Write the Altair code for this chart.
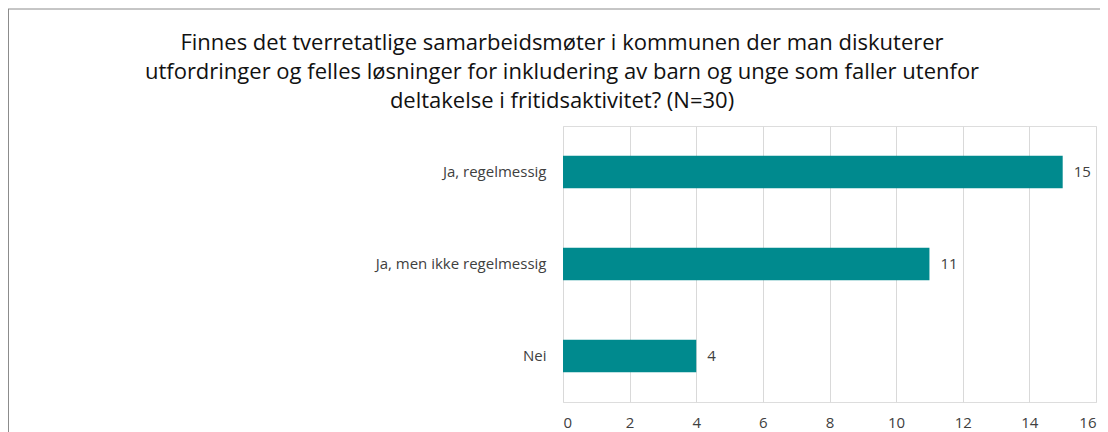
import altair as alt
import pandas as pd

categories = ["Ja, regelmessig", "Ja, men ikke regelmessig", "Nei"]
values = [15, 11, 4]
x_ticks = [0, 2, 4, 6, 8, 10, 12, 14, 16]
title_lines = [
    "Finnes det tverretatlige samarbeidsmøter i kommunen der man diskuterer",
    "utfordringer og felles løsninger for inkludering av barn og unge som faller utenfor",
    "deltakelse i fritidsaktivitet? (N=30)",
]

df = pd.DataFrame({"kategori": categories, "antall": values})
one = pd.DataFrame({"t": [0]})

FONT = "Open Sans"
BAR = "#008A8E"
TXT = "#404040"

W, H = 533, 276

base = alt.Chart(df)

bars = base.mark_bar(color=BAR, size=32.5).encode(
    x=alt.X(
        "antall:Q",
        scale=alt.Scale(domain=[0, 16], nice=False),
        axis=alt.Axis(
            values=x_ticks,
            title=None,
            domain=False,
            ticks=False,
            grid=True,
            gridColor="#d9d9d9",
            gridWidth=1,
            labelFont=FONT,
            labelFontSize=15,
            labelColor=TXT,
            labelPadding=13,
        ),
    ),
    y=alt.Y(
        "kategori:N",
        sort=categories,
        scale=alt.Scale(paddingInner=0, paddingOuter=0),
        axis=alt.Axis(
            title=None,
            domain=False,
            ticks=False,
            labelFont=FONT,
            labelFontSize=15,
            labelColor=TXT,
            labelPadding=17,
            labelLimit=400,
        ),
    ),
)

labels = base.mark_text(
    align="left", baseline="middle", dx=11, font=FONT, fontSize=15, color=TXT
).encode(
    x="antall:Q",
    y=alt.Y("kategori:N", sort=categories),
    text="antall:Q",
)

title = alt.Chart(one).mark_text(
    text=title_lines,
    align="center",
    baseline="alphabetic",
    font=FONT,
    fontSize=22,
    lineHeight=29,
    color="#111111",
).encode(x=alt.value(-1), y=alt.value(-76))

border_top = alt.Chart(one).mark_rule(color="#8c8c8c", strokeWidth=1).encode(
    x=alt.value(-555), x2=alt.value(540), y=alt.value(-117)
)
border_left = alt.Chart(one).mark_rule(color="#8c8c8c", strokeWidth=1).encode(
    x=alt.value(-554.5), y=alt.value(-117), y2=alt.value(420)
)

chart = (
    alt.layer(bars, labels, title, border_top, border_left)
    .properties(
        width=W,
        height=H,
        autosize=alt.AutoSizeParams(type="none"),
        padding={"left": 555, "top": 118, "right": 4, "bottom": 30},
    )
    .configure_view(strokeWidth=0, stroke="transparent")
    .configure(background="white")
)

chart.save("out.html", embed_options={"renderer": "svg", "actions": False})
